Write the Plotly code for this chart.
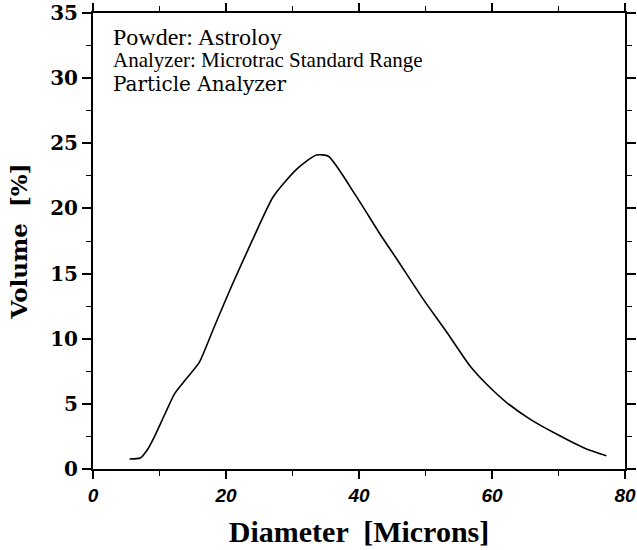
import plotly.graph_objects as go

diameter = [5.5, 7.1, 8.2, 9.3, 10.8, 12.3, 14.0, 16.0, 18.3, 20.9, 24.0, 27.1, 30.6, 33.6, 35.4,
            39.5, 43.2, 45.7, 49.7, 53.2, 56.7, 59.2, 62.2, 65.7, 69.7, 74.2, 77.2]
volume = [0.77, 0.84, 1.5, 2.55, 4.2, 5.8, 6.9, 8.2, 11.0, 14.1, 17.6, 20.9, 23.0, 24.1, 24.0,
          21.0, 18.0, 16.1, 13.0, 10.5, 7.9, 6.5, 5.1, 3.83, 2.68, 1.53, 1.02]

x_tickvals = [0, 20, 40, 60, 80]
y_tickvals = [0, 5, 10, 15, 20, 25, 30, 35]

info_lines = ["Powder: Astroloy", "Analyzer: Microtrac Standard Range", "Particle Analyzer"]

fig = go.Figure()
fig.add_trace(go.Scatter(x=diameter, y=volume, mode="lines",
                         line=dict(color="black", width=1.6, shape="spline", smoothing=0.6),
                         showlegend=False))

axis_common = dict(showgrid=False, zeroline=False, showline=True, linecolor="black", linewidth=2,
                   mirror="ticks", ticks="outside", tickcolor="black", tickwidth=1.5,
                   automargin=False)

fig.update_xaxes(range=[0, 80], tickvals=x_tickvals, ticklen=8,
                 minor=dict(dtick=10, ticks="outside", ticklen=5, tickcolor="black", tickwidth=1),
                 tickfont=dict(family="Liberation Sans", size=19, color="black", weight="bold", style="italic"),
                 title=dict(text="Diameter  [Microns]", standoff=16,
                            font=dict(family="Liberation Serif", size=30, color="black", weight="bold")),
                 **axis_common)
fig.update_yaxes(range=[0, 35], tickvals=y_tickvals, ticklen=9,
                 minor=dict(dtick=2.5, ticks="outside", ticklen=5, tickcolor="black", tickwidth=1),
                 tickfont=dict(family="DejaVu Serif", size=20, color="black", weight="bold"),
                 title=dict(text="Volume  [%]", standoff=16,
                            font=dict(family="DejaVu Serif", size=23, color="black", weight="bold")),
                 **axis_common)

line_fonts = [("Liberation Serif", 24), ("Liberation Serif", 21), ("DejaVu Serif", 20)]
line_y = [0.948, 0.896, 0.845]
for txt, (fam, sz), yy in zip(info_lines, line_fonts, line_y):
    fig.add_annotation(x=0.034, y=yy, xref="paper", yref="paper", xanchor="left", yanchor="middle",
                       align="left", showarrow=False, text=txt,
                       font=dict(family=fam, size=sz, color="black"))

fig.update_layout(width=637, height=550, plot_bgcolor="white", paper_bgcolor="white",
                  margin=dict(l=93, r=12, t=13, b=81))

fig.write_html("out.html", config={"displayModeBar": False},
               post_script="document.body.style.margin='0';")
